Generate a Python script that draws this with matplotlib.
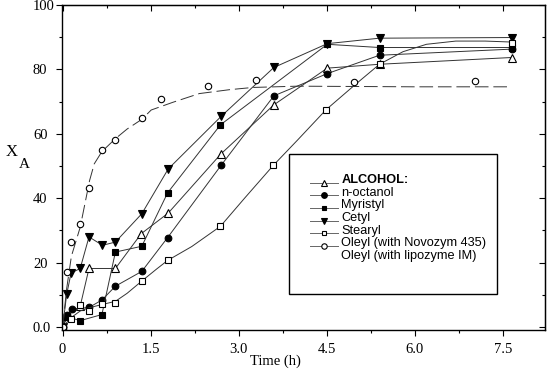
import numpy as np
import matplotlib.pyplot as plt
from matplotlib.lines import Line2D
from matplotlib.patches import Rectangle
from matplotlib.ticker import MultipleLocator, NullFormatter

plt.rcParams['font.family'] = 'Liberation Serif'

# data (time in h, conversion X_A in %)
oct_t = [0, 0.08, 0.3, 0.45, 0.9, 1.34, 1.8, 2.7, 3.6, 4.51, 5.4, 7.65]
oct_y = [0, 3.5, 6.5, 18.2, 18.2, 29.0, 35.4, 53.8, 69.0, 80.4, 81.6, 83.7]

myr_t = [0, 0.08, 0.16, 0.45, 0.67, 0.9, 1.35, 1.79, 2.7, 3.6, 4.51, 5.4, 7.65]
myr_y = [0, 3.7, 5.6, 6.1, 8.4, 12.7, 17.3, 27.8, 50.2, 71.8, 78.7, 84.4, 86.3]

cet_t = [0, 0.08, 0.3, 0.67, 0.9, 1.35, 1.79, 2.69, 4.51, 5.4, 7.65]
cet_y = [0, 3.2, 2.0, 3.9, 23.3, 25.1, 41.7, 62.8, 87.8, 86.8, 86.8]

ste_t = [0, 0.07, 0.145, 0.3, 0.45, 0.68, 0.9, 1.35, 1.8, 2.7, 3.6, 4.51, 5.4, 7.65]
ste_y = [0, 10.2, 16.8, 18.2, 28.0, 25.4, 26.4, 35.2, 49.1, 65.4, 80.6, 88.0, 89.7, 89.9]

nov_t = [0, 0.15, 0.3, 0.45, 0.67, 0.9, 1.35, 1.79, 2.69, 3.59, 4.49, 5.4, 7.65]
nov_y = [0, 2.6, 6.8, 4.9, 7.3, 7.6, 14.3, 20.7, 31.3, 50.2, 67.5, 81.6, 88.3]
# smooth curve drawn through the Novozym points
nov_fit_t = [0, 0.15, 0.3, 0.45, 0.67, 0.9, 1.1, 1.35, 1.6, 1.79, 2.2, 2.69, 3.1,
             3.59, 4.0, 4.49, 5.0, 5.4, 5.8, 6.2, 6.7, 7.2, 7.65]
nov_fit_y = [0, 3, 5, 6, 7, 8, 10.5, 14.3, 18, 20.7, 25, 31.3, 40,
             50.2, 58, 67.5, 75.5, 81.6, 85.5, 87.8, 88.8, 88.8, 88.5]

lip_t = [0, 0.07, 0.145, 0.3, 0.45, 0.67, 0.9, 1.35, 1.67, 2.48, 3.3, 4.96, 7.03]
lip_y = [0, 17.1, 26.4, 32.1, 43.3, 55.0, 58.1, 64.8, 70.8, 74.9, 76.7, 76.2, 76.5]
# dashed fitted curve for lipozyme IM
lip_fit_t = [0, 0.07, 0.15, 0.3, 0.46, 0.54, 0.67, 0.9, 1.1, 1.35, 1.51, 1.88,
             2.33, 2.84, 3.24, 4.0, 5.0, 6.0, 7.6]
lip_fit_y = [0, 12, 22, 31, 45.5, 50.7, 54.5, 58.5, 61.5, 64.5, 67.4, 69.8,
             72.5, 73.7, 74.4, 74.8, 74.7, 74.6, 74.6]

legend_labels = ["ALCOHOL:", "n-octanol", "Myristyl", "Cetyl", "Stearyl",
                 "Oleyl (with Novozym 435)", "Oleyl (with lipozyme IM)"]

x_ticks = [0, 1.5, 3.0, 4.5, 6.0, 7.5]
x_ticklabels = ["0", "1.5", "3.0", "4.5", "6.0", "7.5"]
y_ticks = [0, 20, 40, 60, 80, 100]
y_ticklabels = ["0.0", "20", "40", "60", "80", "100"]

lc = "#333333"
lw = 0.7
styles = [
    dict(marker="^", ms=5.2, mfc="white", mec="black", mew=0.8),
    dict(marker="o", ms=4.8, mfc="black", mec="black", mew=0.8),
    dict(marker="s", ms=4.2, mfc="black", mec="black", mew=0.8),
    dict(marker="v", ms=5.6, mfc="black", mec="black", mew=0.8),
    dict(marker="s", ms=3.8, mfc="white", mec="black", mew=0.8),
    dict(marker="o", ms=4.6, mfc="white", mec="black", mew=0.8),
]

fig = plt.figure(figsize=(5.5, 3.74), dpi=100)
ax = fig.add_axes([62/550, 1-330/374, 483/550, 325/374])

ax.plot(oct_t, oct_y, color=lc, lw=lw, **styles[0])
ax.plot(myr_t, myr_y, color=lc, lw=lw, **styles[1])
ax.plot(cet_t, cet_y, color=lc, lw=lw, **styles[2])
ax.plot(ste_t, ste_y, color=lc, lw=lw, **styles[3])
ax.plot(nov_fit_t, nov_fit_y, color=lc, lw=lw)
ax.plot(nov_t, nov_y, ls="none", **styles[4])
ax.plot(lip_fit_t, lip_fit_y, color=lc, lw=lw, dashes=(14, 5))
ax.plot(lip_t, lip_y, ls="none", **styles[5])

ax.set_xlim(-0.01, 8.22)
ax.set_ylim(-0.9, 99.7)

ax.set_xticks(x_ticks, x_ticklabels)
ax.set_yticks(y_ticks, y_ticklabels, ha="left")
ax.xaxis.set_minor_locator(MultipleLocator(0.75))
ax.yaxis.set_minor_locator(MultipleLocator(10))
ax.tick_params(which="both", direction="out", width=0.8, labelsize=10.5)
ax.tick_params(which="major", length=4.5)
ax.tick_params(which="minor", length=2.5)
ax.tick_params(axis="x", pad=5)
ax.tick_params(axis="y", pad=16.4)
for s in ax.spines.values():
    s.set_linewidth(1.0)

# top and right ticks point inwards
secx = ax.secondary_xaxis("top")
secx.set_xticks(x_ticks)
secx.xaxis.set_minor_locator(MultipleLocator(0.75))
secx.xaxis.set_major_formatter(NullFormatter())
secx.tick_params(which="both", direction="in", width=0.8)
secx.tick_params(which="major", length=4.5)
secx.tick_params(which="minor", length=2.5)
secy = ax.secondary_yaxis("right")
secy.set_yticks(y_ticks)
secy.yaxis.set_minor_locator(MultipleLocator(10))
secy.yaxis.set_major_formatter(NullFormatter())
secy.tick_params(which="both", direction="in", width=0.8)
secy.tick_params(which="major", length=4.5)
secy.tick_params(which="minor", length=2.5)

fig.text(275/550, 1-361/374, "Time (h)", ha="center", va="center", fontsize=10.5)
fig.text(12/550, 1-152/374, "X", ha="center", va="center", fontsize=12)
fig.text(24/550, 1-164/374, "A", ha="center", va="center", fontsize=11)

# legend box
ax.add_patch(Rectangle((0.470, 0.111), 0.431, 0.4305, transform=ax.transAxes,
                       fill=False, lw=1.0, ec="black", zorder=5))
handles = [Line2D([], [], ls="none")]
for st in styles:
    handles.append(Line2D([], [], color="#666666", lw=lw, **st))
leg = ax.legend(handles, legend_labels, loc="upper left",
                bbox_to_anchor=(0.5135, 0.48), borderaxespad=0, borderpad=0,
                frameon=False, prop={"family": "Liberation Sans", "size": 9.2},
                handlelength=2.2, handletextpad=0.25, labelspacing=0.05,
                markerscale=0.85)
leg.get_texts()[0].set_fontweight("bold")
for h in leg.legend_handles[1:]:
    h.set_ydata(np.asarray(h.get_ydata()) + 6)

fig.savefig("out.png", dpi=100)
